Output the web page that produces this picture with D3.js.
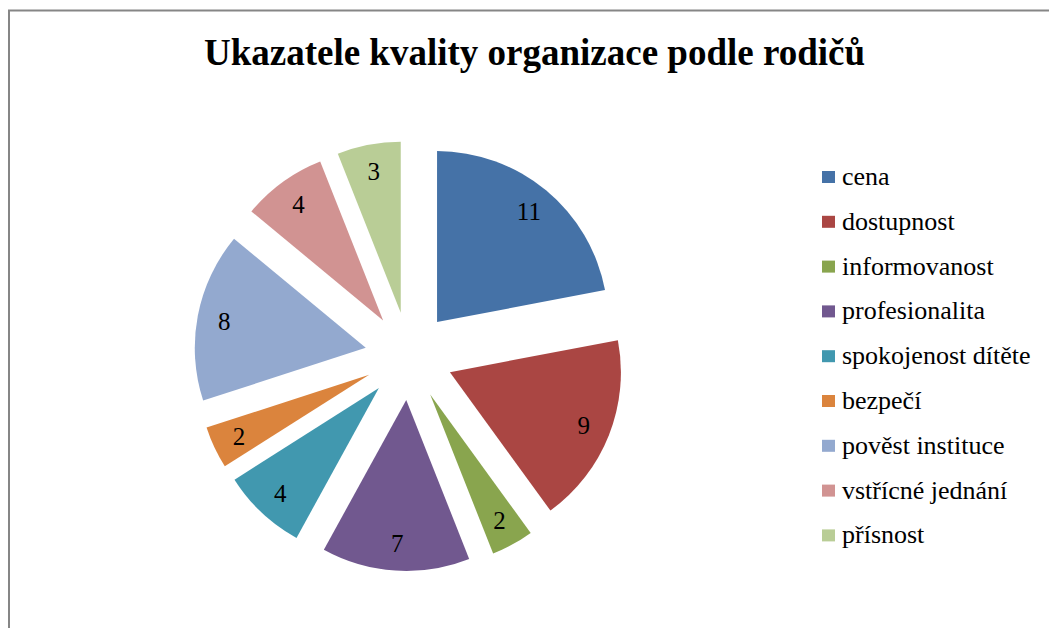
<!DOCTYPE html>
<html>
<head>
<meta charset="utf-8">
<script src="https://cdn.jsdelivr.net/npm/d3@7"></script>
<style>
  body { margin: 0; background: #fff; }
  svg { display: block; }
  text { font-family: "Liberation Serif", "Times New Roman", serif; }
</style>
</head>
<body>
<div id="chart"></div>
<script>
const categories = ['cena', 'dostupnost', 'informovanost', 'profesionalita', 'spokojenost dítěte', 'bezpečí', 'pověst instituce', 'vstřícné jednání', 'přísnost'];
const values = [11, 9, 2, 7, 4, 2, 8, 4, 3];
const colors = ['#4572A7', '#AA4643', '#89A54E', '#71588F', '#4198AF', '#DB843D', '#93A9CF', '#D19392', '#B9CD96'];
const title = 'Ukazatele kvality organizace podle rodičů';

const W = 1049, H = 628;
const cx = 409, cy = 356;
const radius = 171;
const explode = 44;

const data = categories.map((c, i) => ({ name: c, value: values[i], color: colors[i] }));

const svg = d3.select('#chart').append('svg')
  .attr('width', W)
  .attr('height', H);

// chart frame (only top and left edges visible)
svg.append('path')
  .attr('d', `M9,${H + 5}V10.5H${W + 5}`)
  .attr('fill', 'none')
  .attr('stroke', '#868686')
  .attr('stroke-width', 2);

svg.append('text')
  .attr('x', 534.5)
  .attr('y', 65)
  .attr('text-anchor', 'middle')
  .style('font-weight', 'bold')
  .style('font-size', '37px')
  .text(title);

const pie = d3.pie().value(d => d.value).sort(null);
const arc = d3.arc().innerRadius(0).outerRadius(radius);
const labelArc = d3.arc().innerRadius(144).outerRadius(144);

const arcs = pie(data);

const g = svg.append('g').attr('transform', `translate(${cx},${cy})`);

const slices = g.selectAll('.slice')
  .data(arcs)
  .enter().append('g')
  .attr('class', 'slice')
  .attr('transform', d => {
    const a = (d.startAngle + d.endAngle) / 2;
    return `translate(${explode * Math.sin(a)},${-explode * Math.cos(a)})`;
  });

slices.append('path')
  .attr('d', arc)
  .attr('fill', d => d.data.color);

slices.append('text')
  .attr('transform', d => `translate(${labelArc.centroid(d)})`)
  .attr('text-anchor', 'middle')
  .attr('dy', '0.35em')
  .style('font-size', '25px')
  .style('fill', '#000')
  .text(d => d.data.value);

// legend
const legend = svg.append('g').attr('transform', 'translate(822,177)');
const item = legend.selectAll('.item')
  .data(data)
  .enter().append('g')
  .attr('class', 'item')
  .attr('transform', (d, i) => `translate(0,${i * 44.8})`);

item.append('rect')
  .attr('x', 0)
  .attr('y', -6)
  .attr('width', 13)
  .attr('height', 12)
  .attr('fill', d => d.color);

item.append('text')
  .attr('x', 20)
  .attr('y', 8)
  .style('font-size', '26px')
  .style('fill', '#000')
  .text(d => d.name);
</script>
</body>
</html>
